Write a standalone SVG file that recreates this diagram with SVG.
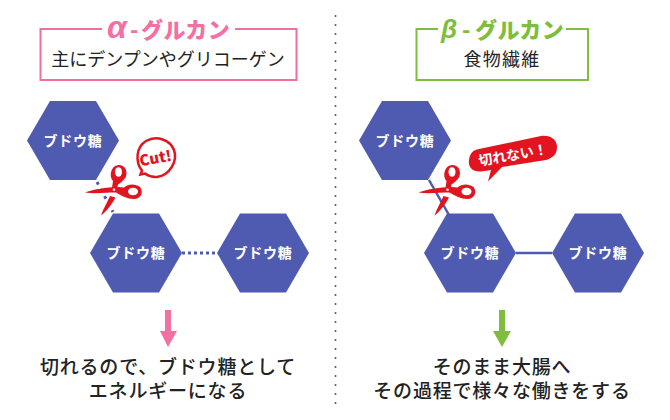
<svg xmlns="http://www.w3.org/2000/svg" width="670" height="420" viewBox="0 0 670 420">
<style>
text{font-family:"Noto Sans CJK JP","Noto Sans",sans-serif;text-anchor:middle}
.hex{fill:#4f5bb0}
.hl{fill:#fff;font-size:14px;font-weight:700;letter-spacing:.8px}
.sub{fill:#222;font-size:18px;font-weight:400}
.foot{fill:#222;font-size:19px;font-weight:500;letter-spacing:.8px}
.tt{font-size:22px;font-weight:900;letter-spacing:.5px;text-anchor:start}
.gk{font-family:"Liberation Sans",sans-serif;font-style:italic;font-weight:700}
.box{fill:none;stroke-width:2}
.sc{fill:#e2141f}
</style>
<defs>
<polygon id="h" class="hex" points="-46,0 -23,-39.500 23,-39.500 46,0 23,39.500 -23,39.500"/>
<g id="scissors">
<path class="sc" d="M85 192.500C95 189 105 187.500 118 187L124 187.500C128 183.500 136 183.500 140 187C144 192 141 199 134 199C127 199 122 196 116 192.500C106 192.500 95 194 85 192.500Z"/>
<path class="sc" d="M112 188L113 181C109 177 110 166 118.500 165C126 165 128 172 125.500 177.500C123 181 120.500 183 118 184.500L117 189Z"/>
<path class="sc" d="M101 215.500C103 209 107 203 110 196L115.500 197.500C112 204 107 211 101 215.500Z"/>
<ellipse cx="133" cy="191.500" rx="5" ry="3.800" fill="#fff"/>
<ellipse cx="118.500" cy="172" rx="3.500" ry="4.800" fill="#fff"/>
<circle cx="114" cy="189.700" r="1.300" fill="#fff"/>
</g>
</defs>
<rect width="670" height="420" fill="#fff"/>
<line x1="335.500" y1="16" x2="335.500" y2="405" stroke="#555" stroke-width="2" stroke-linecap="round" stroke-dasharray="0 9"/>

<g id="connectors" fill="none" stroke="#4f5bb0" stroke-width="2.500">
<path d="M97 182L113 212" stroke-width="3" stroke-dasharray="3 5"/>
<path d="M182 253H217" stroke-width="3" stroke-dasharray="3 3"/>
<path d="M429 180L449 215M516 253H552"/>
<path d="M168 310V334" stroke="#f46fa2" stroke-width="6"/>
<path d="M502 310V334" stroke="#7fbe3c" stroke-width="6"/>
<polygon points="160,331 177,331 168,347" fill="#f46fa2" stroke="none"/>
<polygon points="493,331 511,331 502,347" fill="#7fbe3c" stroke="none"/>
</g>

<g id="alpha-title">
<path class="box" stroke="#ef6fa0" d="M102 29H40.500V80H296.500V29H235"/>
<text class="tt" y="38" fill="#f46fa2"><tspan class="gk" x="107" font-size="32">α</tspan><tspan x="130">-</tspan><tspan x="141">グルカン</tspan></text>
<text class="sub" x="168" y="66">主にデンプンやグリコーゲン</text>
</g>
<g id="beta-title">
<path class="box" stroke="#7fbe3c" d="M438 29H416.500V80H588V29H566"/>
<text class="tt" y="38" fill="#7fbe3c"><tspan class="gk" x="441" font-size="26">β</tspan><tspan x="462">-</tspan><tspan x="475">グルカン</tspan></text>
<text class="sub" x="502" y="66" style="letter-spacing:1.200px">食物繊維</text>
</g>

<g id="a1"><use href="#h" x="73" y="140.500"/><text class="hl" x="73" y="145.500">ブドウ糖</text></g>
<g id="a2"><use href="#h" x="136" y="253"/><text class="hl" x="136" y="258">ブドウ糖</text></g>
<g id="a3"><use href="#h" x="263" y="253"/><text class="hl" x="263" y="258">ブドウ糖</text></g>
<g id="b1"><use href="#h" x="405" y="140.500"/><text class="hl" x="405" y="145.500">ブドウ糖</text></g>
<g id="b2"><use href="#h" x="470" y="253"/><text class="hl" x="470" y="258">ブドウ糖</text></g>
<g id="b3"><use href="#h" x="598" y="253"/><text class="hl" x="598" y="258">ブドウ糖</text></g>

<g id="scissors-a"><use href="#scissors"/></g>
<g id="scissors-b"><use href="#scissors" x="333.500"/></g>

<g id="bubble-cut">
<path d="M140.500 174.500L142 170.500C135 162 136 147 146 141C157 135 170 140 174 150C178 161 170 175 157 177C151 177.500 147 175 145 173.500Z" fill="#fff" stroke="#e2141f" stroke-width="2.500"/>
<text x="155.500" y="163.500" transform="rotate(-10 155.500 158)" fill="#e2141f" font-size="15" font-weight="900">Cut!</text>
</g>
<g id="bubble-no">
<path d="M488 181.500L491 170L481 171.500C472 172 468 167 469 160C470 153 473 150 479 149L541 136C551 135 557 140 557 147C557 154 553 158 546 160L502 167Z" fill="#e2141f"/>
<text x="513" y="160" transform="rotate(-10 513 155)" fill="#fff" font-size="14" font-weight="700">切れない！</text>
</g>

<text id="foot-a" class="foot"><tspan x="168" y="374">切れるので、ブドウ糖として</tspan><tspan x="168" y="398">エネルギーになる</tspan></text>
<text id="foot-b" class="foot"><tspan x="502" y="374">そのまま大腸へ</tspan><tspan x="502" y="398">その過程で様々な働きをする</tspan></text>
</svg>
